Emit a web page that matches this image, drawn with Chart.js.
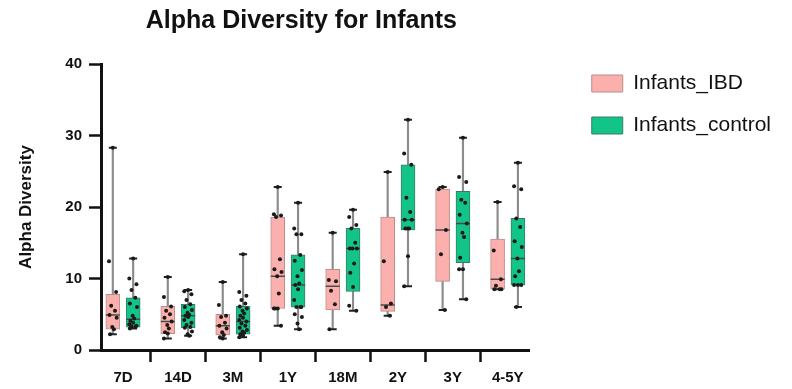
<!DOCTYPE html>
<html>
<head>
<meta charset="utf-8">
<script src="https://cdn.jsdelivr.net/npm/chart.js@4"></script>
<style>
  html, body { margin: 0; padding: 0; background: #fff; }
  #wrap { width: 792px; height: 389px; }
</style>
</head>
<body>
<div id="wrap"><canvas id="grafico" width="792" height="389"></canvas></div>
<script>
const categorias = ['7D', '14D', '3M', '1Y', '18M', '2Y', '3Y', '4-5Y'];

// Infants_IBD
const ibdMin    = [2.2, 1.6, 1.6, 3.4, 2.9, 4.8, 5.6, 8.5];
const ibdQ1     = [2.9, 2.3, 2.1, 5.8, 5.6, 5.4, 9.6, 8.5];
const ibdMedian = [4.9, 4.0, 3.4, 10.3, 8.9, 6.3, 16.8, 9.9];
const ibdQ3     = [7.8, 6.1, 5.0, 18.6, 11.3, 18.6, 22.5, 15.5];
const ibdMax    = [28.3, 10.2, 9.5, 22.8, 16.4, 24.9, 22.8, 20.7];
const ibdPuntos = [
  [28.3, 12.4, 8.1, 6.2, 5.5, 4.9, 4.5, 3.2, 2.9, 2.2],
  [10.2, 7.4, 6.1, 5.5, 5.0, 4.5, 4.0, 3.5, 3.0, 2.5, 2.3, 1.6],
  [9.5, 6.3, 4.8, 4.6, 3.8, 3.4, 3.0, 2.5, 2.1, 1.8, 1.6],
  [22.8, 19.0, 18.8, 18.6, 12.7, 11.3, 10.9, 10.3, 7.9, 5.8, 5.8, 5.8, 3.4],
  [16.4, 9.8, 9.6, 8.3, 6.4, 2.9],
  [24.9, 12.4, 6.5, 6.0, 4.8],
  [22.8, 22.5, 16.8, 13.4, 5.6],
  [20.7, 13.9, 9.9, 9.0, 8.5, 8.5, 8.5]
];

// Infants_control
const ctrlMin    = [3.0, 2.0, 1.8, 2.9, 5.5, 8.9, 7.1, 6.0];
const ctrlQ1     = [3.2, 3.1, 2.2, 6.0, 8.2, 16.8, 12.2, 9.1];
const ctrlMedian = [4.3, 4.8, 4.0, 9.1, 14.2, 18.2, 17.7, 12.8];
const ctrlQ3     = [7.3, 6.4, 6.1, 13.3, 17.0, 25.9, 22.2, 18.4];
const ctrlMax    = [12.8, 8.4, 13.4, 20.6, 19.6, 32.2, 29.7, 26.2];
const ctrlPuntos = [
  [12.8, 10.0, 9.2, 8.4, 7.3, 6.5, 6.0, 4.8, 4.4, 4.1, 3.8, 3.6, 3.4, 3.3, 3.2, 3.0],
  [8.4, 8.2, 7.8, 7.0, 6.4, 6.0, 5.6, 5.2, 4.9, 4.8, 4.6, 4.2, 3.8, 3.5, 3.2, 3.1, 2.6, 2.2, 2.0],
  [13.4, 8.1, 7.6, 7.0, 6.5, 6.1, 5.8, 5.5, 5.1, 4.8, 4.5, 4.2, 4.0, 3.7, 3.4, 3.1, 2.8, 2.6, 2.4, 2.2, 2.0, 1.8],
  [20.6, 17.0, 16.2, 16.2, 13.3, 12.5, 11.2, 10.3, 9.3, 9.1, 8.5, 7.0, 6.0, 6.0, 6.0, 5.0, 4.6, 3.7, 2.9],
  [19.6, 18.6, 17.5, 17.0, 15.0, 14.2, 14.2, 14.2, 12.1, 10.8, 8.8, 6.2, 5.5],
  [32.2, 27.5, 25.9, 21.3, 19.3, 18.2, 18.2, 17.0, 17.0, 17.0, 13.1, 8.9],
  [29.7, 24.2, 23.5, 21.0, 20.6, 18.9, 17.7, 16.4, 15.8, 12.9, 11.3, 11.3, 7.1],
  [26.2, 22.9, 22.5, 18.4, 17.2, 15.2, 14.4, 12.8, 11.0, 10.3, 9.1, 9.1, 9.1, 6.0]
];

const yTicks = [0, 10, 20, 30, 40];

const FUENTE = "'Liberation Sans', Arial, Helvetica, sans-serif";
const ROSA = '#fbb0ad';
const VERDE = '#12c487';
const DESFASE = 0.185;                 // half the distance between the two boxes of a group
const JITTER = [0, -0.07, 0.06, -0.03, 0.04, -0.06, 0.07, -0.01, 0.02, -0.05];

function cajas(desde, hasta, lado) {
  return categorias.map((_, i) => ({ x: i + lado * DESFASE, y: [desde[i], hasta[i]] }));
}

function marcas(valores, lado) {
  return categorias.map((_, i) => ({ x: i + lado * DESFASE, y: valores[i] }));
}

function dispersion(grupos, lado) {
  const out = [];
  grupos.forEach((vals, i) => {
    vals.forEach((v, k) => out.push({ x: i + lado * DESFASE + JITTER[k % JITTER.length], y: v }));
  });
  return out;
}

// the title in the figure sits a little left of the plot centre
const moverTitulo = {
  id: 'moverTitulo',
  afterLayout(chart) {
    const t = chart.titleBlock;
    if (!t) return;
    t.left -= 14;
    t.right -= 14;
  }
};

const ctx = document.getElementById('grafico').getContext('2d');

new Chart(ctx, {
  type: 'bar',
  plugins: [moverTitulo],
  data: {
    datasets: [
      {
        label: 'Infants_IBD',
        data: cajas(ibdQ1, ibdQ3, -1),
        backgroundColor: ROSA,
        borderColor: '#b98e8c',
        borderWidth: 1,
        borderSkipped: false,
        barThickness: 14,
        grouped: false,
        order: 2
      },
      {
        label: 'Infants_control',
        data: cajas(ctrlQ1, ctrlQ3, 1),
        backgroundColor: VERDE,
        borderColor: '#3c7d62',
        borderWidth: 1,
        borderSkipped: false,
        barThickness: 14,
        grouped: false,
        order: 2
      },
      {
        label: 'bigotes IBD',
        data: cajas(ibdMin, ibdMax, -1),
        backgroundColor: '#8c8c8c',
        borderWidth: 0,
        barThickness: 1.5,
        grouped: false,
        order: 3
      },
      {
        label: 'bigotes control',
        data: cajas(ctrlMin, ctrlMax, 1),
        backgroundColor: '#8c8c8c',
        borderWidth: 0,
        barThickness: 1.5,
        grouped: false,
        order: 3
      },
      {
        type: 'scatter',
        label: 'mediana',
        data: marcas(ibdMedian, -1).concat(marcas(ctrlMedian, 1)),
        pointStyle: 'line',
        pointRadius: 7,
        pointBorderWidth: 1.5,
        pointBorderColor: '#4a4a4a',
        order: 1
      },
      {
        type: 'scatter',
        label: 'extremos',
        data: marcas(ibdMin, -1).concat(marcas(ibdMax, -1), marcas(ctrlMin, 1), marcas(ctrlMax, 1)),
        pointStyle: 'line',
        pointRadius: 4,
        pointBorderWidth: 2,
        pointBorderColor: '#222',
        order: 1
      },
      {
        type: 'scatter',
        label: 'puntos',
        data: dispersion(ibdPuntos, -1).concat(dispersion(ctrlPuntos, 1)),
        pointStyle: 'circle',
        pointRadius: 2,
        pointBorderWidth: 0,
        pointBackgroundColor: '#1a1a1a',
        order: 0
      }
    ]
  },
  options: {
    responsive: false,
    animation: false,
    events: [],
    layout: { padding: { left: 0, right: 11, top: 0, bottom: 2 } },
    plugins: {
      title: {
        display: true,
        fullSize: false,
        text: 'Alpha Diversity for Infants',
        color: '#111',
        font: { family: FUENTE, size: 25, weight: 'bold' },
        padding: { top: 6, bottom: 28 }
      },
      legend: {
        position: 'right',
        align: 'start',
        maxWidth: 300,
        title: { display: true, text: ' ', font: { size: 10 }, padding: { top: 40, bottom: 0 } },
        labels: {
          boxWidth: 31,
          boxHeight: 17,
          padding: 21,
          color: '#111',
          font: { family: FUENTE, size: 21 },
          filter: (item) => item.datasetIndex < 2
        }
      },
      tooltip: { enabled: false }
    },
    scales: {
      x: {
        type: 'linear',
        min: -0.4,
        max: 7.4,
        offset: false,
        afterBuildTicks: (scale) => { scale.ticks = categorias.map((_, i) => ({ value: i })); },
        afterFit: (scale) => { scale.height = 37; },
        grid: { display: true, drawOnChartArea: false, tickLength: 12, tickWidth: 2.5, tickColor: '#111' },
        border: { display: true, width: 3, color: '#111' },
        ticks: {
          color: '#111',
          padding: 7,
          font: { family: FUENTE, size: 15, weight: 'bold' },
          callback: (v) => categorias[v]
        }
      },
      y: {
        min: 0,
        max: 40,
        afterBuildTicks: (scale) => { scale.ticks = yTicks.map(v => ({ value: v })); },
        afterFit: (scale) => { scale.width = 101; },
        grid: { display: true, drawOnChartArea: false, tickLength: 12, tickWidth: 2.5, tickColor: '#111' },
        border: { display: true, width: 3, color: '#111' },
        ticks: {
          color: '#111',
          padding: 7,
          font: { family: FUENTE, size: 15, weight: 'bold' }
        },
        title: {
          display: true,
          text: 'Alpha Diversity',
          color: '#111',
          font: { family: FUENTE, size: 17, weight: 'bold' },
          padding: { top: 16, bottom: 0 }
        }
      },
      hueco: {
        type: 'linear',
        position: 'right',
        display: true,
        grid: { display: false },
        border: { display: false },
        ticks: { display: false },
        afterFit: (scale) => { scale.width = 41; }
      }
    }
  }
});
</script>
</body>
</html>
